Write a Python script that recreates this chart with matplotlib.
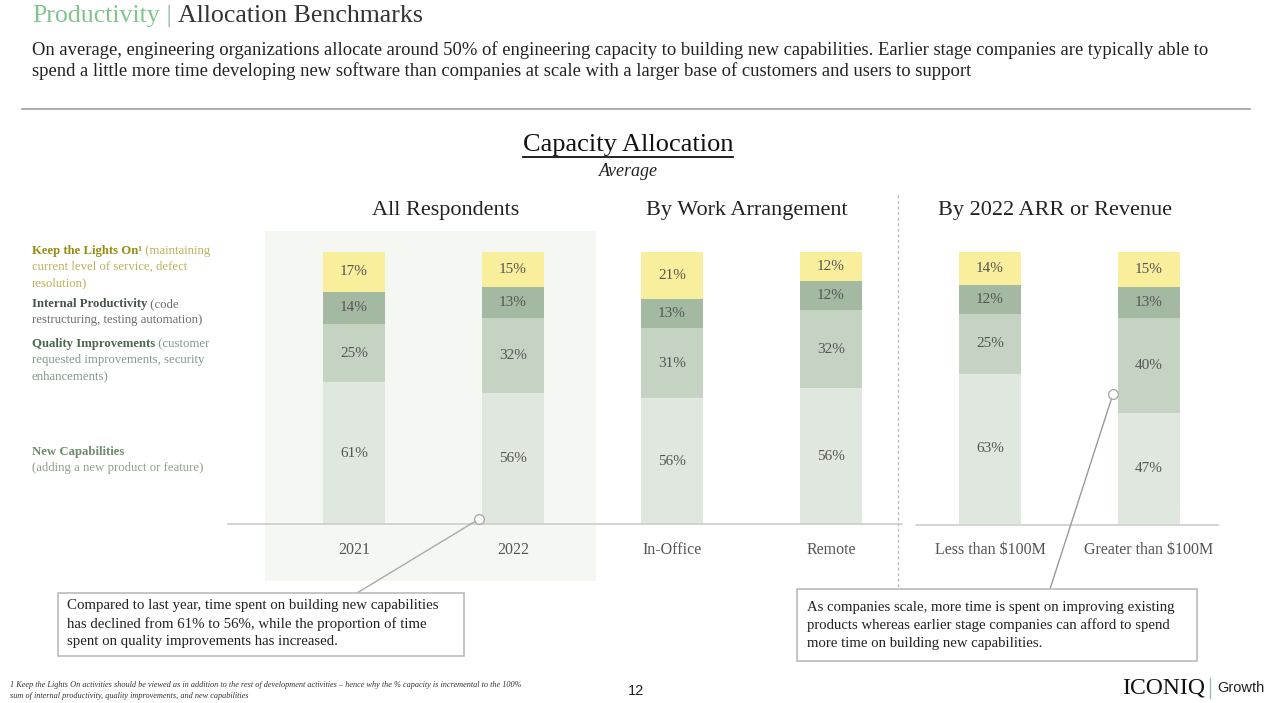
import numpy as np
import matplotlib
matplotlib.use("Agg")
import matplotlib.pyplot as plt
from matplotlib.patches import Rectangle
from matplotlib.lines import Line2D

# -------------------------
# Datos
# -------------------------
categorias = ["2021", "2022", "In-Office", "Remote", "Less than $100M", "Greater than $100M"]
grupos = ["All Respondents", "By Work Arrangement", "By 2022 ARR or Revenue"]
new_capabilities = [61, 56, 56, 56, 63, 47]
quality_improvements = [25, 32, 31, 32, 25, 40]
internal_productivity = [14, 13, 13, 12, 12, 13]
keep_lights_on = [17, 15, 21, 12, 14, 15]

W, H = 1270, 703
SERIF = "Liberation Serif"

fig = plt.figure(figsize=(W / 100, H / 100), dpi=100)
fig.patch.set_facecolor("white")


def px(x, y):
    return x / W, 1 - y / H


def ftext(x, y, s, **kw):
    kw.setdefault("family", SERIF)
    return fig.text(*px(x, y), s, **kw)


renderer = fig.canvas.get_renderer()


def rich(x, y, partes, size=9.2):
    for s, color, weight in partes:
        t = ftext(x, y, s, color=color, fontweight=weight, fontsize=size, va="center", ha="left")
        bb = t.get_window_extent(renderer=renderer)
        x += bb.width


def linea(xs, ys, **kw):
    fig.add_artist(Line2D([v / W for v in xs], [1 - v / H for v in ys], **kw))


# -------------------------
# Encabezado
# -------------------------
rich(32, 16, [("Productivity", "#7fc58e", "normal"), (" | ", "#8ab89a", "normal"),
              ("Allocation Benchmarks", "#333333", "normal")], size=18.6)
ftext(32, 50, "On average, engineering organizations allocate around 50% of engineering capacity to building new "
      "capabilities. Earlier stage companies are typically able to", fontsize=13.45, color="#222222", va="center")
ftext(32, 71, "spend a little more time developing new software than companies at scale with a larger base of "
      "customers and users to support", fontsize=13.45, color="#222222", va="center")
linea([22, 1250], [109, 109], color="#a0a0a0", lw=1.2)

t = ftext(628, 145, "Capacity Allocation", fontsize=19, color="#111111", ha="center", va="center")
bb = t.get_window_extent(renderer=renderer)
fig.add_artist(Line2D([bb.x0 / W, bb.x1 / W], [1 - 157 / H] * 2, color="#111111", lw=1.3))
ftext(628, 171, "Average", fontsize=13, style="italic", color="#222222", ha="center", va="center")

for g, xc in zip(grupos, [446, 747, 1055]):
    ftext(xc, 211, g, fontsize=16, color="#222222", ha="center", va="center")

# panel gris detras de All Respondents
fig.add_artist(Rectangle(px(265, 581), 331 / W, 350 / H, transform=fig.transFigure,
                         facecolor="#f5f7f3", edgecolor="none", zorder=0))

# -------------------------
# Barras (100% apiladas)
# -------------------------
ax = fig.add_axes([228 / W, 1 - 524 / H, 990 / W, 272 / H])
ax.patch.set_alpha(0)
x = np.arange(len(categorias))
series = [new_capabilities, quality_improvements, internal_productivity, keep_lights_on]
colores = ["#e0e7de", "#c5d3c3", "#a4b9a2", "#f8ee9c"]
total = np.sum(series, axis=0)
base = np.zeros(len(categorias))
for vals, c in zip(series, colores):
    frac = np.array(vals) / total
    ax.bar(x, frac, 0.395, bottom=base, color=c, edgecolor="none")
    for xi, b, f, v in zip(x, base, frac, vals):
        ax.text(xi, b + f / 2, f"{v}%", ha="center", va="center", fontsize=11,
                color="#555555", family=SERIF)
    base += frac

ax.set_xlim(-126 / 159, (1218 - 354) / 159)
ax.set_ylim(0, 1)
ax.set_xticks(x)
ax.set_xticklabels(categorias, family=SERIF, fontsize=11.5, color="#555555")
ax.tick_params(axis="x", length=0, pad=13)
ax.set_yticks([])
for s in ax.spines.values():
    s.set_visible(False)

# lineas base y separador
linea([228, 902], [524, 524], color="#cccccc", lw=1.2)
linea([916, 1218], [525, 525], color="#cccccc", lw=1.2)
linea([898, 898], [195, 590], color="#bbbbbb", lw=1, ls=(0, (2, 2)))

# -------------------------
# Leyenda a la izquierda
# -------------------------
rich(32, 251, [("Keep the Lights On¹", "#948e12", "bold"), (" (maintaining", "#bdb158", "normal")])
ftext(32, 267, "current level of service, defect", fontsize=9.2, color="#bdb158", va="center")
ftext(32, 283, "resolution)", fontsize=9.2, color="#bdb158", va="center")
rich(32, 304, [("Internal Productivity", "#4a554a", "bold"), (" (code", "#6e6e6e", "normal")])
ftext(32, 320, "restructuring, testing automation)", fontsize=9.2, color="#6e6e6e", va="center")
rich(32, 344, [("Quality Improvements", "#4e684f", "bold"), (" (customer", "#86968a", "normal")])
ftext(32, 360, "requested improvements, security", fontsize=9.2, color="#86968a", va="center")
ftext(32, 376, "enhancements)", fontsize=9.2, color="#86968a", va="center")
ftext(32, 452, "New Capabilities", fontsize=9.2, color="#6f8c6c", fontweight="bold", va="center")
ftext(32, 468, "(adding a new product or feature)", fontsize=9.2, color="#8ea08c", va="center")

# -------------------------
# Cajas de comentarios
# -------------------------
linea([357, 479], [593, 519], color="#aaaaaa", lw=1)
linea([479], [519], marker="o", ms=7, mfc="white", mec="#aaaaaa", mew=1, zorder=5)
linea([1050, 1113], [589, 394], color="#999999", lw=1)
linea([1113], [394], marker="o", ms=7, mfc="white", mec="#aaaaaa", mew=1, zorder=5)

fig.add_artist(Rectangle(px(58, 656), 406 / W, 63 / H, transform=fig.transFigure,
                         facecolor="white", edgecolor="#bbbbbb", lw=1.2, zorder=4))
for yy, s in zip([606, 624, 642], ["Compared to last year, time spent on building new capabilities",
                                   "has declined from 61% to 56%, while the proportion of time",
                                   "spent on quality improvements has increased."]):
    ftext(67, yy, s, fontsize=10.7, color="#222222", va="center", zorder=6)

fig.add_artist(Rectangle(px(797, 661), 400 / W, 72 / H, transform=fig.transFigure,
                         facecolor="white", edgecolor="#bbbbbb", lw=1.2, zorder=4))
for yy, s in zip([608, 625, 643], ["As companies scale, more time is spent on improving existing",
                                   "products whereas earlier stage companies can afford to spend",
                                   "more time on building new capabilities."]):
    ftext(807, yy, s, fontsize=10.6, color="#222222", va="center", zorder=6)

# -------------------------
# Pie de pagina
# -------------------------
ftext(10, 685, "1 Keep the Lights On activities should be viewed as in addition to the rest of development "
      "activities \u2013 hence why the % capacity is incremental to the 100%", fontsize=5.95,
      style="italic", color="#333333", va="center")
ftext(10, 696, "sum of internal productivity, quality improvements, and new capabilities", fontsize=5.95,
      style="italic", color="#333333", va="center")
ftext(636, 691, "12", fontsize=10.5, family="Liberation Sans", color="#222222", ha="center", va="center")
ftext(1205, 688, "ICONIQ", fontsize=17, color="#111111", ha="right", va="center")
linea([1210, 1210], [678, 698], color="#9cc0a4", lw=1)
ftext(1217, 688, "Growth", fontsize=10.5, family="Liberation Sans", color="#222222", va="center")

fig.savefig("out.png", dpi=100)
